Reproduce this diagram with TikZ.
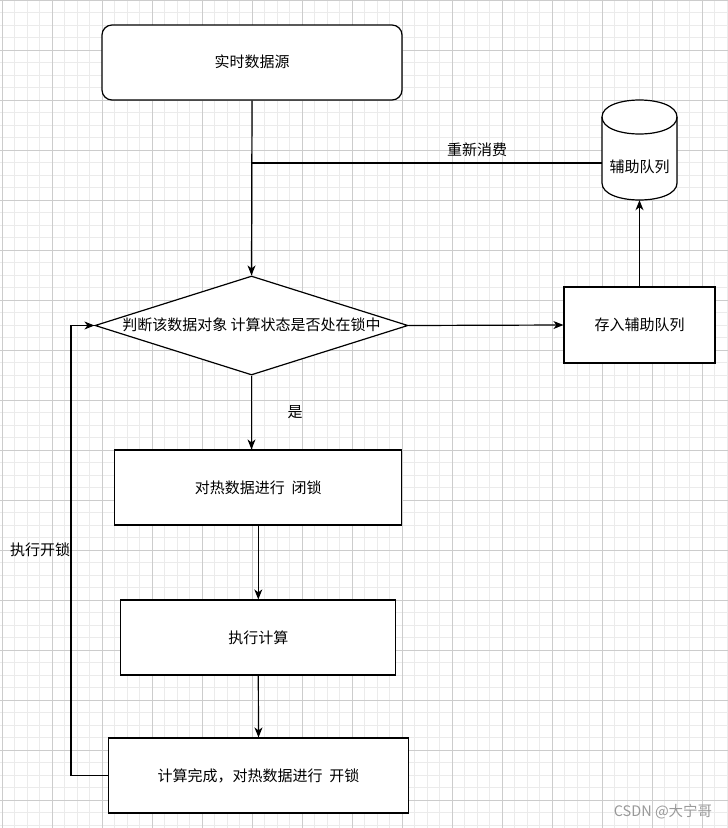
\documentclass[tikz,border=0pt]{standalone}
\usepackage{fontspec}
\setmainfont{Noto Sans CJK SC}
\usetikzlibrary{arrows.meta,shapes.geometric}
\tikzset{
  box/.style={draw=black, line width=1.2pt, fill=white, inner sep=0pt},
  txt/.style={font=\fontsize{15}{18}\selectfont, inner sep=0pt},
  conn/.style={line width=1.2pt, draw=black},
  arr/.style={conn, -{Stealth[length=10pt,width=8pt,inset=3pt]}},
  minorgrid/.style={draw=black!8, line width=0.6pt},
  majorgrid/.style={draw=black!20, line width=0.8pt}
}
\begin{document}
\begin{tikzpicture}[x=1pt,y=-1pt]
\useasboundingbox (0,0) rectangle (728,828);
\fill[white] (0,0) rectangle (728,828);
% grid
\foreach \i in {0,...,58} {\draw[minorgrid] ({2+12.5*\i},0) -- ({2+12.5*\i},828);}
\foreach \i in {0,...,66} {\draw[minorgrid] (0,{12.5*\i}) -- (728,{12.5*\i});}
\foreach \i in {0,...,14} {\draw[majorgrid] ({2+50*\i},0) -- ({2+50*\i},828);}
\foreach \i in {0,...,16} {\draw[majorgrid] (0,{50*\i}) -- (728,{50*\i});}

% nodes
\node[box, rounded corners=10pt, minimum width=300pt, minimum height=75pt] (src) at (252,62.5) {};
\node[txt] (srct) at (252,62) {实时数据源};

\node[box, shape=diamond, minimum width=313pt, minimum height=99pt] (dia) at (251.5,325.5) {};
\node[txt] (diat) at (251.5,325) {判断该数据对象 计算状态是否处在锁中};

\node[box, minimum width=151pt, minimum height=76pt] (st) at (639.5,325) {};
\node[txt] (stt) at (639.5,325) {存入辅助队列};

% cylinder
\node[inner sep=0pt, minimum width=75pt, minimum height=100pt] (q) at (639.5,150) {};
\draw[box, fill=white] (602,117) -- (602,183) .. controls (602,205.67) and (677,205.67) .. (677,183) -- (677,117)
  .. controls (677,94.33) and (602,94.33) .. (602,117) -- cycle;
\draw[conn] (602,117) .. controls (602,139.67) and (677,139.67) .. (677,117);
\node[txt] (qt) at (639.5,167) {辅助队列};

\node[box, minimum width=287pt, minimum height=75pt] (b2) at (258.3,487.5) {};
\node[txt] (b2t) at (258.3,487.5) {对热数据进行\ \ 闭锁};

\node[box, minimum width=275pt, minimum height=75pt] (b3) at (258.3,637.5) {};
\node[txt] (b3t) at (258.3,637.5) {执行计算};

\node[box, minimum width=300pt, minimum height=75pt] (b4) at (258.5,775.5) {};
\node[txt] (b4t) at (258.5,775.5) {计算完成，对热数据进行\ \ 开锁};

% connectors
\coordinate (j) at (252,163);
\coordinate (lp) at (71,0);
\draw[arr] (src.south) -- (dia.north);
\draw[conn] (q.west |- j) -- (j);
\node[txt] (lbl1) at (477,150) {重新消费};
\draw[arr] (dia.east) -- (st.west);
\draw[arr] (st.north) -- (q.south);
\draw[arr] (dia.south) -- (dia.south |- b2.north);
\node[txt] (lbl2) at (295,412) {是};
\draw[arr] (b2.south) -- (b3.north);
\draw[arr] (b3.south) -- (b4.north);
\draw[arr] (b4.west) -- (b4.west -| lp) |- (dia.west);
\node[txt] (lbl3) at (40,550) {执行开锁};

\node[txt, text=black!40, font=\fontsize{14.5}{17}\selectfont] (wm) at (663,812) {CSDN @大宁哥};
\end{tikzpicture}
\end{document}
